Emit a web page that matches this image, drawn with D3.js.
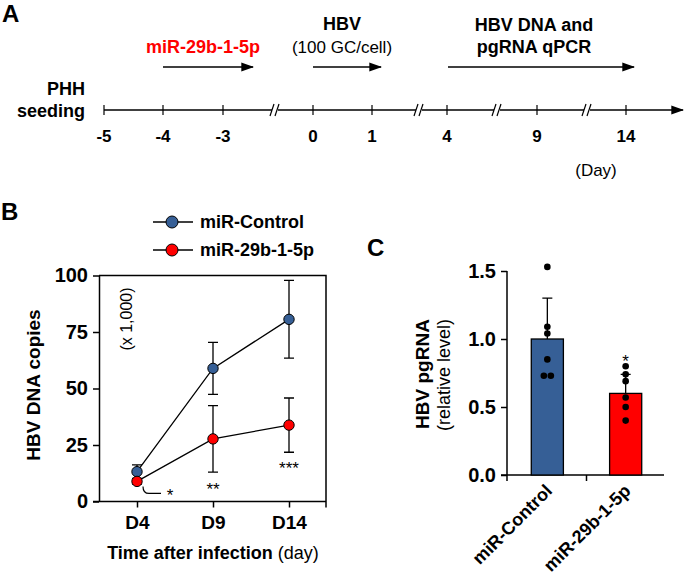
<!DOCTYPE html>
<meta charset="utf-8">
<style>
body { margin: 0; background: #fff; }
text { font-family: Arial, "Liberation Sans", sans-serif; fill: #000; }
.b { font-weight: 700; }
.axis path, .axis line { stroke: #000; stroke-width: 1.5px; }
.axis text { font-weight: 700; font-size: 20px; }
</style>
<body>
<script src="https://d3js.org/d3.v7.min.js"></script>
<script>

// panel A timeline
var days = ["-5", "-4", "-3", "0", "1", "4", "9", "14"],
    breaksAfter = ["-3", "1", "4", "9"];

// panel B
var timepoints = ["D4", "D9", "D14"],
    bSeries = ["miR-Control", "miR-29b-1-5p"],
    ctrlMean = [13.2, 58.9, 80.6],
    ctrlErr = [3, 11.5, 17.2],
    mirMean = [8.9, 27.7, 33.8],
    mirErr = [1.2, 14.7, 12],
    stars = ["*", "**", "***"],
    bTicks = [0, 25, 50, 75, 100];

// panel C
var groups = ["miR-Control", "miR-29b-1-5p"],
    cMean = [1.0, 0.60],
    cErr = [0.30, 0.14],
    ctrlDots = [1.53, 1.09, 1.04, 0.85, 0.73, 0.73],
    mirDots = [0.80, 0.74, 0.69, 0.57, 0.50, 0.40],
    cTicks = [0, 0.5, 1.0, 1.5];

var blue = "#365f96", red = "#ff0000";

var svg = d3.select("body").append("svg")
    .attr("width", 685)
    .attr("height", 582);

svg.append("defs").append("marker")
    .attr("id", "arr")
    .attr("viewBox", "0 0 10 10")
    .attr("refX", 9).attr("refY", 5)
    .attr("markerWidth", 13).attr("markerHeight", 13)
    .attr("markerUnits", "userSpaceOnUse")
    .attr("orient", "auto")
  .append("path")
    .attr("d", "M0,1.5L10,5L0,8.5Z")
    .attr("fill", "#000");

function label(g, x, y, txt, size, cls, anchor) {
  return g.append("text")
      .attr("x", x).attr("y", y)
      .attr("class", cls || "")
      .attr("text-anchor", anchor || "middle")
      .style("font-size", size + "px")
      .text(txt);
}

// ---------- A ----------
var A = svg.append("g");
label(A, 2, 22, "A", 24, "b", "start");

// day positions are uneven in the figure (axis has breaks)
var dayPos = d3.scaleOrdinal().domain(days).range([104, 163, 223, 313, 372, 447, 537, 626]);
var lineY = 110;

A.append("line")
    .attr("x1", dayPos("-5")).attr("x2", 683)
    .attr("y1", lineY).attr("y2", lineY)
    .attr("stroke", "#000").attr("stroke-width", 1.5)
    .attr("marker-end", "url(#arr)");

A.selectAll(".tk").data(days).enter().append("line")
    .attr("x1", dayPos).attr("x2", dayPos)
    .attr("y1", lineY - 5).attr("y2", lineY + 5)
    .attr("stroke", "#000").attr("stroke-width", 1.2);

A.selectAll(".tl").data(days).enter().append("text")
    .attr("x", dayPos).attr("y", 142)
    .attr("text-anchor", "middle")
    .attr("class", "b")
    .style("font-size", "17px")
    .text(function(d) { return d; });

// break marks
var breakX = [275, 419, 497, 587];
breaksAfter.forEach(function(d, i) {
  var g = A.append("g").attr("transform", "translate(" + breakX[i] + "," + lineY + ")");
  g.append("rect").attr("x", -3).attr("y", -3).attr("width", 6).attr("height", 6).attr("fill", "#fff");
  [-3, 2].forEach(function(o) {
    g.append("line")
        .attr("x1", o - 2).attr("y1", 6).attr("x2", o + 2).attr("y2", -6)
        .attr("stroke", "#000").attr("stroke-width", 1.2);
  });
});

label(A, 85, 95, "PHH", 18, "b", "end");
label(A, 85, 117, "seeding", 18, "b", "end");

function arrow(x1, x2, y) {
  A.append("line")
      .attr("x1", x1).attr("x2", x2)
      .attr("y1", y).attr("y2", y)
      .attr("stroke", "#000").attr("stroke-width", 1.5)
      .attr("marker-end", "url(#arr)");
}
arrow(dayPos("-4"), 253, 67);
arrow(dayPos("0"), 381, 67);
arrow(dayPos("4") + 1, 634, 67);

label(A, 203, 53, "miR-29b-1-5p", 18, "b").style("fill", red);
label(A, 342, 30, "HBV", 18, "b");
label(A, 342, 53, "(100 GC/cell)", 17, "");
label(A, 534, 31, "HBV DNA and", 18, "b");
label(A, 534, 53, "pgRNA qPCR", 18, "b");
label(A, 596, 176, "(Day)", 17, "");

// ---------- B ----------
var B = svg.append("g");
label(B, 1, 220, "B", 24, "b", "start");

var xB = d3.scalePoint().domain(timepoints).range([137, 289]),
    yB = d3.scaleLinear().domain([0, 100]).range([501.5, 275.5]);

// frame
B.append("path")
    .attr("d", "M99," + yB(100) + "H326V" + (yB(0) + 6))
    .attr("fill", "none").attr("stroke", "#000").attr("stroke-width", 1.5);

B.append("g").attr("class", "axis")
    .attr("transform", "translate(99,0)")
    .call(d3.axisLeft(yB).tickValues(bTicks).tickSize(6).tickSizeOuter(0).tickPadding(5));

var xAxB = B.append("g").attr("class", "axis")
    .attr("transform", "translate(0," + yB(0) + ")")
    .call(d3.axisBottom(xB).tickSize(6).tickSizeOuter(0).tickPadding(8));
xAxB.select(".domain").attr("d", "M93,0H326");
xAxB.selectAll("text").style("font-size", "19px");

var series = [
  {name: bSeries[0], mean: ctrlMean, err: ctrlErr, color: blue},
  {name: bSeries[1], mean: mirMean, err: mirErr, color: red}
];

var line = d3.line()
    .x(function(d, i) { return xB(timepoints[i]); })
    .y(function(d) { return yB(d); });

series.forEach(function(s) {
  var g = B.append("g");
  g.append("path").attr("d", line(s.mean))
      .attr("fill", "none").attr("stroke", "#000").attr("stroke-width", 1.3);
  s.mean.forEach(function(m, i) {
    var x = xB(timepoints[i]);
    g.append("path")
        .attr("d", "M" + x + "," + yB(m + s.err[i]) + "V" + yB(m - s.err[i]) +
          "M" + (x - 5) + "," + yB(m + s.err[i]) + "h10" +
          "M" + (x - 5) + "," + yB(m - s.err[i]) + "h10")
        .attr("stroke", "#000").attr("stroke-width", 1.3).attr("fill", "none");
  });
  g.selectAll("circle").data(s.mean).enter().append("circle")
      .attr("cx", function(d, i) { return xB(timepoints[i]); })
      .attr("cy", yB)
      .attr("r", 5.2)
      .attr("fill", s.color).attr("stroke", "#000").attr("stroke-width", 1);
});

// significance
B.append("path")
    .attr("d", "M143," + (yB(mirMean[0]) + 5) + "q0,7 6,7h12")
    .attr("fill", "none").attr("stroke", "#000").attr("stroke-width", 1.2);
label(B, 170, 501, stars[0], 17, "");
label(B, xB(timepoints[1]), 495, stars[1], 17, "");
label(B, xB(timepoints[2]), 474, stars[2], 17, "");

B.append("text")
    .attr("transform", "translate(132,319)rotate(-90)")
    .attr("text-anchor", "middle")
    .style("font-size", "16px")
    .text("(x 1,000)");

B.append("text")
    .attr("transform", "translate(40,385)rotate(-90)")
    .attr("text-anchor", "middle")
    .attr("class", "b")
    .style("font-size", "19px")
    .text("HBV DNA copies");

var xt = B.append("text").attr("x", 213).attr("y", 559).attr("text-anchor", "middle")
    .style("font-size", "18px");
xt.append("tspan").attr("class", "b").text("Time after infection ");
xt.append("tspan").text("(day)");

// legend
series.forEach(function(s, i) {
  var y = 222 + i * 28;
  B.append("line").attr("x1", 153).attr("x2", 193).attr("y1", y).attr("y2", y)
      .attr("stroke", "#000").attr("stroke-width", 1.3);
  B.append("circle").attr("cx", 172).attr("cy", y).attr("r", 6)
      .attr("fill", s.color).attr("stroke", "#000");
  label(B, 200, y + 6, s.name, 18, "b", "start");
});

// ---------- C ----------
var C = svg.append("g");
label(C, 367, 256, "C", 24, "b", "start");

var xC = d3.scaleBand().domain(groups).range([507, 666]).paddingInner(0.59).paddingOuter(0.31),
    yC = d3.scaleLinear().domain([0, 1.5]).range([475, 271]);

C.append("g").attr("class", "axis")
    .attr("transform", "translate(507,0)")
    .call(d3.axisLeft(yC).tickValues(cTicks).tickFormat(d3.format(".1f")).tickSize(6).tickSizeOuter(0).tickPadding(5))
    .select(".domain").attr("d", "M0," + yC(1.5) + "V" + (yC(0) + 6));

var midTick = (xC(groups[0]) + xC(groups[1]) + xC.bandwidth()) / 2;
C.append("line")
    .attr("x1", 501).attr("x2", 664)
    .attr("y1", yC(0)).attr("y2", yC(0))
    .attr("stroke", "#000").attr("stroke-width", 1.5);
C.append("line")
    .attr("x1", midTick).attr("x2", midTick)
    .attr("y1", yC(0)).attr("y2", yC(0) + 6)
    .attr("stroke", "#000").attr("stroke-width", 1.5);

var colorsC = [blue, red],
    dotsC = [ctrlDots, mirDots];

groups.forEach(function(gname, i) {
  var x0 = xC(gname), w = xC.bandwidth(), cx = x0 + w / 2;
  C.append("path")
      .attr("d", "M" + cx + "," + yC(cMean[i]) + "V" + yC(cMean[i] + cErr[i]) + "M" + (cx - 5) + "," + yC(cMean[i] + cErr[i]) + "h10")
      .attr("stroke", "#000").attr("stroke-width", 1.3);
  C.append("rect")
      .attr("x", x0).attr("width", w)
      .attr("y", yC(cMean[i])).attr("height", yC(0) - yC(cMean[i]))
      .attr("fill", colorsC[i]).attr("stroke", "#000").attr("stroke-width", 1.3);
  // spread dots that sit at the same level
  var vals = dotsC[i];
  vals.forEach(function(v, j) {
    var same = vals.filter(function(u) { return Math.abs(u - v) < 0.02; }),
        k = vals.slice(0, j).filter(function(u) { return Math.abs(u - v) < 0.02; }).length,
        off = same.length > 1 ? (k - (same.length - 1) / 2) * 7 : 0;
    C.append("circle")
        .attr("cx", cx + off).attr("cy", yC(v)).attr("r", 3.3)
        .attr("fill", "#000");
  });
});

label(C, xC(groups[1]) + xC.bandwidth() / 2, yC(cMean[1] + cErr[1]) - 7, "*", 17, "");

C.append("text")
    .attr("transform", "translate(429,374)rotate(-90)")
    .attr("text-anchor", "middle").attr("class", "b")
    .style("font-size", "19px").text("HBV pgRNA");
C.append("text")
    .attr("transform", "translate(450,375)rotate(-90)")
    .attr("text-anchor", "middle")
    .style("font-size", "18px").text("(relative level)");

groups.forEach(function(gname) {
  var cx = xC(gname) + xC.bandwidth() / 2;
  C.append("text")
      .attr("transform", "translate(" + (cx + 6) + "," + 492 + ")rotate(-45)")
      .attr("text-anchor", "end").attr("class", "b")
      .style("font-size", "18px").text(gname);
});

</script>
